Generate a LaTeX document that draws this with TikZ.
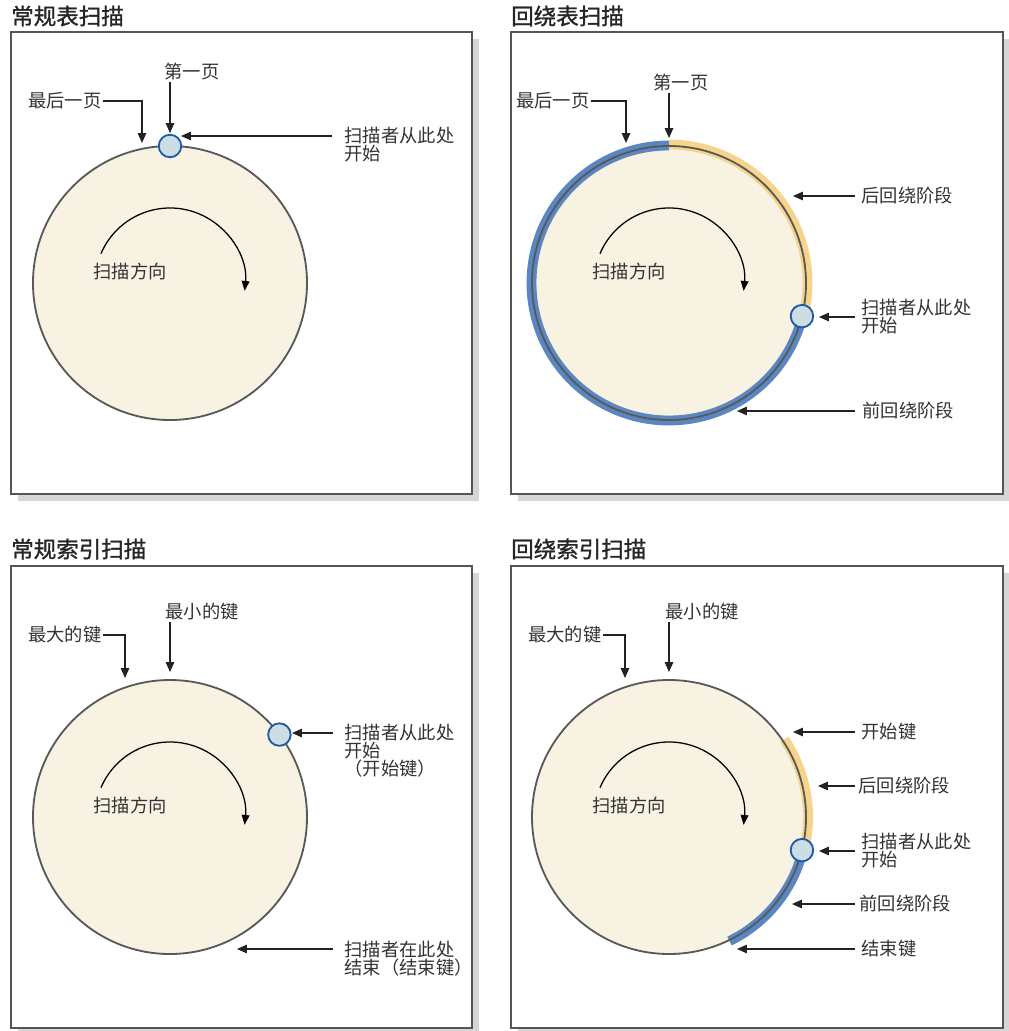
\documentclass[tikz,border=0pt]{standalone}
\usepackage{fontspec}
\newfontfamily\cjk{Noto Sans CJK SC}
\newfontfamily\cjkttl{Noto Sans CJK SC}[FakeBold=1.2]
\usetikzlibrary{arrows.meta,calc}
\definecolor{diskfill}{HTML}{F7F2E2}
\definecolor{rimgray}{HTML}{595959}
\definecolor{framegray}{HTML}{555555}
\definecolor{shadowgray}{HTML}{D6D6D6}
\definecolor{bandblue}{HTML}{5A86C2}
\definecolor{bandorange}{HTML}{F6D48C}
\definecolor{curfill}{HTML}{CCDEE4}
\definecolor{curline}{HTML}{1D5AA6}
\definecolor{textgray}{HTML}{333333}
\definecolor{arrowgray}{HTML}{222222}
\tikzset{
  lbl/.style={font=\cjk\fontsize{13}{12.8}\selectfont, text=textgray, inner sep=1pt, align=left},
  ttl/.style={font=\cjkttl\fontsize{16}{18}\selectfont, text=black!85, anchor=west, inner sep=0pt},
  arr/.style={draw=arrowgray, line width=0.9pt, -{Triangle[length=7pt,width=6pt]}},
  scanarc/.style={draw=black, line width=0.9pt, -{Triangle[length=7pt,width=5.5pt]}},
  panel/.style={draw=framegray, line width=1.3pt, fill=white},
  shadowbox/.style={fill=shadowgray},
  disk/.style={fill=diskfill},
  rim/.style={draw=rimgray, line width=1.3pt},
  preband/.style={draw=bandblue, line width=7pt},
  postband/.style={draw=bandorange, line width=7pt},
  cursor/.style={circle, fill=curfill, draw=curline, line width=1.3pt, minimum size=16pt, inner sep=0pt}
}
\begin{document}
\begin{tikzpicture}[x=0.025cm,y=-0.025cm]
  \useasboundingbox (0,0) rectangle (1008,1031);
  \foreach \px/\py/\pw in {11/32/461, 511/32/492, 11/566/461, 511/566/492}{
    \fill[shadowbox] (\px+7,\py+7) rectangle ++(\pw,462);
    \draw[panel] (\px,\py) rectangle ++(\pw,462);
  }
  \node[ttl] (t1title) at (11,16) {常规表扫描};
  \node[ttl] (t2title) at (511,16) {回绕表扫描};
  \node[ttl] (t3title) at (11,549) {常规索引扫描};
  \node[ttl] (t4title) at (511,549) {回绕索引扫描};

  % regular table scan
  \coordinate (t1c) at (170,283);
  \fill[disk] (t1c) circle[radius=137];
  \draw[rim] (t1c) circle[radius=137];
  \draw[scanarc] ($(t1c)+(-157:75)$) arc[start angle=-157, end angle=6, radius=75];
  \node[lbl] (t1dir) at (130,272) {扫描方向};
  \node[cursor] (t1cur) at ($(t1c)+(-90:137)$) {};
  \node[lbl] (t1first) at (192,72) {第一页};
  \coordinate (t1firstTip) at (170,133);
  \draw[arr] (t1first.south -| t1firstTip) -- (t1firstTip);
  \node[lbl,anchor=east] (t1last) at (103,101) {最后一页};
  \coordinate (t1lastTip) at (142,143);
  \draw[arr] (t1last.east) -| (t1lastTip);
  \node[lbl,anchor=north west] (t1start) at (343,125) {扫描者从此处\\开始};
  \coordinate (t1startTip) at (181,136);
  \draw[arr] ($(t1start.west |- t1startTip)+(-11,0)$) -- (t1startTip);

  % wrapped table scan
  \coordinate (t2c) at (669,283);
  \fill[disk] (t2c) circle[radius=137];
  \draw[preband] ($(t2c)+(-90:137.5)$) arc[start angle=-90, end angle=-346, radius=137.5];
  \draw[postband] ($(t2c)+(-90:138.5)$) arc[start angle=-90, end angle=14, radius=138.5];
  \draw[rim] (t2c) circle[radius=137];
  \draw[scanarc] ($(t2c)+(-157:75)$) arc[start angle=-157, end angle=6, radius=75];
  \node[lbl] (t2dir) at (629,272) {扫描方向};
  \node[cursor] (t2cur) at ($(t2c)+(14:137)$) {};
  \node[lbl] (t2first) at (681,83) {第一页};
  \coordinate (t2firstTip) at (669,138);
  \draw[arr] (t2first.south -| t2firstTip) -- (t2firstTip);
  \node[lbl,anchor=east] (t2last) at (591,101) {最后一页};
  \coordinate (t2lastTip) at (626,143);
  \draw[arr] (t2last.east) -| (t2lastTip);
  \node[lbl,anchor=west] (t2post) at (860,196) {后回绕阶段};
  \coordinate (t2postTip) at (793,196);
  \draw[arr] ($(t2post.west)+(-5,0)$) -- (t2postTip);
  \node[lbl,anchor=west] (t2start) at (860,317) {扫描者从此处\\开始};
  \coordinate (t2startTip) at (819,317);
  \draw[arr] ($(t2start.west)+(-5,0)$) -- (t2startTip);
  \node[lbl,anchor=west] (t2pre) at (861,411) {前回绕阶段};
  \coordinate (t2preTip) at (737,411);
  \draw[arr] ($(t2pre.west)+(-6,0)$) -- (t2preTip);

  % regular index scan
  \coordinate (t3c) at (170,817);
  \fill[disk] (t3c) circle[radius=137];
  \draw[rim] (t3c) circle[radius=137];
  \draw[scanarc] ($(t3c)+(-157:75)$) arc[start angle=-157, end angle=6, radius=75];
  \node[lbl] (t3dir) at (130,806) {扫描方向};
  \node[cursor] (t3cur) at ($(t3c)+(-37:137)$) {};
  \node[lbl] (t3min) at (202,612) {最小的键};
  \coordinate (t3minTip) at (170,672);
  \draw[arr] (t3min.south -| t3minTip) -- (t3minTip);
  \node[lbl,anchor=east] (t3max) at (103,635) {最大的键};
  \coordinate (t3maxTip) at (125,678);
  \draw[arr] (t3max.east) -| (t3maxTip);
  \node[lbl,anchor=north west] (t3start) at (343,722) {扫描者从此处\\开始\\（开始键）};
  \coordinate (t3startTip) at (292,733);
  \draw[arr] ($(t3start.west |- t3startTip)+(-10,0)$) -- (t3startTip);
  \node[lbl,anchor=north west] (t3end) at (343,939) {扫描者在此处\\结束（结束键）};
  \coordinate (t3endTip) at (237,949);
  \draw[arr] ($(t3end.west |- t3endTip)+(-10,0)$) -- (t3endTip);

  % wrapped index scan
  \coordinate (t4c) at (669,817);
  \fill[disk] (t4c) circle[radius=137];
  \draw[postband] ($(t4c)+(-34:139)$) arc[start angle=-34, end angle=14, radius=139];
  \draw[preband] ($(t4c)+(14:138)$) arc[start angle=14, end angle=64, radius=138];
  \draw[rim] (t4c) circle[radius=137];
  \draw[scanarc] ($(t4c)+(-157:75)$) arc[start angle=-157, end angle=6, radius=75];
  \node[lbl] (t4dir) at (629,806) {扫描方向};
  \node[cursor] (t4cur) at ($(t4c)+(14:137)$) {};
  \node[lbl] (t4min) at (702,612) {最小的键};
  \coordinate (t4minTip) at (669,672);
  \draw[arr] (t4min.south -| t4minTip) -- (t4minTip);
  \node[lbl,anchor=east] (t4max) at (603,635) {最大的键};
  \coordinate (t4maxTip) at (625,678);
  \draw[arr] (t4max.east) -| (t4maxTip);
  \node[lbl,anchor=west] (t4key) at (860,732) {开始键};
  \coordinate (t4keyTip) at (793,732);
  \draw[arr] ($(t4key.west)+(-5,0)$) -- (t4keyTip);
  \node[lbl,anchor=west] (t4post) at (857,786) {后回绕阶段};
  \coordinate (t4postTip) at (818,786);
  \draw[arr] ($(t4post.west)+(-2,0)$) -- (t4postTip);
  \node[lbl,anchor=west] (t4start) at (860,851) {扫描者从此处\\开始};
  \coordinate (t4startTip) at (819,851);
  \draw[arr] ($(t4start.west)+(-5,0)$) -- (t4startTip);
  \node[lbl,anchor=west] (t4pre) at (858,904) {前回绕阶段};
  \coordinate (t4preTip) at (792,904);
  \draw[arr] ($(t4pre.west)+(-3,0)$) -- (t4preTip);
  \node[lbl,anchor=west] (t4end) at (860,949) {结束键};
  \coordinate (t4endTip) at (737,949);
  \draw[arr] ($(t4end.west)+(-5,0)$) -- (t4endTip);
\end{tikzpicture}
\end{document}
